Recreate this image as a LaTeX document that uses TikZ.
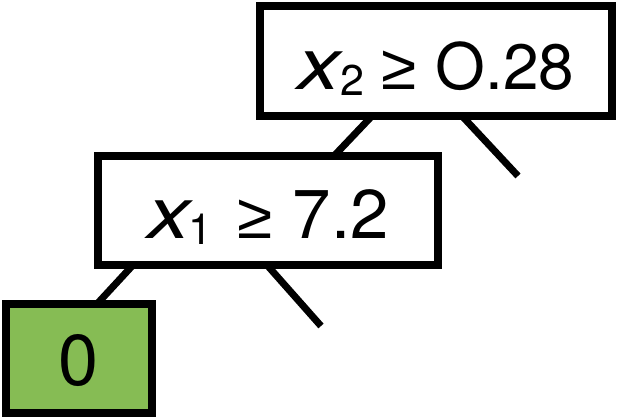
\documentclass[tikz,border=0pt]{standalone}
\usepackage{fontspec}
\setmainfont{TeX Gyre Heros}
\newfontfamily\symfam{Liberation Sans}
\usetikzlibrary{calc}
\definecolor{leafgreen}{RGB}{134,188,84}
\newcommand\varx{{\fontsize{72}{72}\selectfont\itshape\scalebox{1.2}[1]{x}}}
\newcommand\subidx[1]{\raisebox{-6pt}{\fontsize{43}{43}\selectfont #1}}
\newcommand\geqsym{{\symfam\fontsize{64}{64}\selectfont ≥}}
\begin{document}
\begin{tikzpicture}[x=1pt,y=-1pt,
  box/.style={draw=black, line width=8pt, rectangle, inner sep=0pt, outer sep=0pt, fill=white},
  edge/.style={line width=7pt, draw=black}]
\useasboundingbox (0,0) rectangle (618,420);
\node[box, minimum width=352pt, minimum height=110pt, text height=56pt, text depth=0pt] (top) at (436,61)
  {\varx\subidx{2}\hspace{17pt}\geqsym\hspace{19pt}{\fontsize{64}{64}\selectfont O.28}};
\node[box, minimum width=340pt, minimum height=109pt, text height=55pt, text depth=0pt] (mid) at (268,210.5)
  {\varx\hspace{-2pt}\subidx{1}\hspace{25pt}\geqsym\hspace{20pt}{\fontsize{69}{69}\selectfont 7.2}};
\node[box, fill=leafgreen, minimum width=146pt, minimum height=109pt, text height=53pt, text depth=0pt] (leaf) at (79,358.5)
  {\fontsize{72}{72}\selectfont 0};
\coordinate (tr) at (518,176);
\coordinate (mr) at (321,326);
\draw[edge] ($(top.south west)!0.318!(top.south east)$) -- ($(mid.north west)!0.694!(mid.north east)$);
\draw[edge] ($(top.south west)!0.574!(top.south east)$) -- (tr);
\draw[edge] ($(mid.south west)!0.103!(mid.south east)$) -- ($(leaf.north west)!0.623!(leaf.north east)$);
\draw[edge] ($(mid.south west)!0.497!(mid.south east)$) -- (mr);
\end{tikzpicture}
\end{document}
